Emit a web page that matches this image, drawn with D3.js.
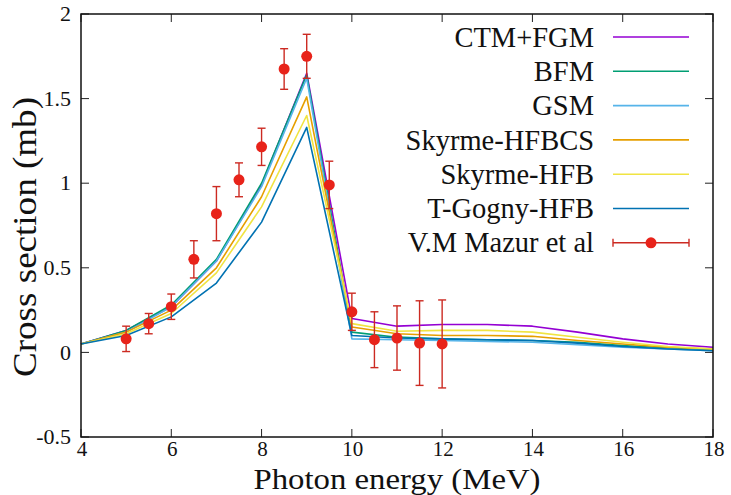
<!DOCTYPE html>
<html><head><meta charset="utf-8">
<script src="https://cdn.jsdelivr.net/npm/d3@7"></script>
<style>body{margin:0;background:#fff}svg text{font-family:"Liberation Serif","DejaVu Serif",serif;fill:#111}</style>
</head><body><svg id="c" width="731" height="495"></svg>
<script>
const energies = [4,5,6,7,8,9,10,11,12,13,14,15,16,17,18];
const ctmFgm    = [0.05,0.13,0.27,0.54,0.99,1.65,0.20,0.155,0.165,0.165,0.155,0.12,0.08,0.05,0.03];
const bfm       = [0.05,0.13,0.28,0.55,1.00,1.64,0.12,0.09,0.08,0.075,0.07,0.06,0.04,0.025,0.015];
const gsm       = [0.05,0.12,0.27,0.54,0.98,1.62,0.08,0.075,0.07,0.065,0.06,0.045,0.03,0.02,0.01];
const skyHfbcs  = [0.05,0.12,0.25,0.50,0.92,1.51,0.15,0.11,0.10,0.10,0.095,0.07,0.05,0.03,0.02];
const skyHfb    = [0.05,0.11,0.23,0.47,0.86,1.40,0.17,0.125,0.13,0.13,0.12,0.09,0.06,0.035,0.02];
const tGogny    = [0.05,0.10,0.21,0.41,0.77,1.33,0.10,0.085,0.08,0.075,0.07,0.055,0.035,0.02,0.01];
const seriesNames = ["CTM+FGM","BFM","GSM","Skyrme-HFBCS","Skyrme-HFB","T-Gogny-HFB"];
const seriesColors = ["#9400d3","#009e73","#56b4e9","#e69f00","#f0e442","#0072b2"];
const seriesValues = [ctmFgm,bfm,gsm,skyHfbcs,skyHfb,tGogny];
const expName = "V.M Mazur et al";
const expE   = [5,5.5,6,6.5,7,7.5,8,8.5,9,9.5,10,10.5,11,11.5,12];
const expSig = [0.08,0.17,0.27,0.55,0.82,1.02,1.215,1.675,1.75,0.99,0.24,0.075,0.085,0.055,0.05];
const expErr = [0.075,0.06,0.075,0.11,0.16,0.10,0.11,0.12,0.13,0.14,0.11,0.165,0.19,0.25,0.26];
const xTicks = [4,6,8,10,12,14,16,18];
const yTicks = [-0.5,0,0.5,1,1.5,2];

const svg = d3.select("#c");
const L=81,R=713,T=14,B=437;
const x = d3.scaleLinear().domain([4,18]).range([L,R]);
const y = d3.scaleLinear().domain([-0.5,2]).range([B,T]);
const tk = 8;

// ticks (inward, mirrored)
const g = svg.append("g");
xTicks.forEach(v=>{
  g.append("line").attr("x1",x(v)).attr("x2",x(v)).attr("y1",B).attr("y2",B-tk).attr("stroke","#222").attr("stroke-width",1);
  g.append("line").attr("x1",x(v)).attr("x2",x(v)).attr("y1",T).attr("y2",T+tk).attr("stroke","#222").attr("stroke-width",1);
  g.append("text").attr("x",x(v)+1).attr("y",B+19).attr("text-anchor","middle").attr("font-size",21).text(v);
});
yTicks.forEach(v=>{
  g.append("line").attr("x1",L).attr("x2",L+tk).attr("y1",y(v)).attr("y2",y(v)).attr("stroke","#222").attr("stroke-width",1);
  g.append("line").attr("x1",R).attr("x2",R-tk).attr("y1",y(v)).attr("y2",y(v)).attr("stroke","#222").attr("stroke-width",1);
  g.append("text").attr("x",L-10).attr("y",y(v)).attr("dy","0.33em").attr("text-anchor","end").attr("font-size",22).text(v);
});

// model lines
const line = d3.line().x((d,i)=>x(energies[i])).y(d=>y(d));
seriesValues.forEach((vals,k)=>{
  svg.append("path").datum(vals).attr("d",line).attr("fill","none")
    .attr("stroke",seriesColors[k]).attr("stroke-width",1.6).attr("stroke-linejoin","round");
});

// experimental points
const errCol="#cc2a22", ptCol="#e8231a";
expE.forEach((e,i)=>{
  const lo=y(expSig[i]-expErr[i]), hi=y(expSig[i]+expErr[i]);
  svg.append("line").attr("x1",x(e)).attr("x2",x(e)).attr("y1",lo).attr("y2",hi).attr("stroke",errCol).attr("stroke-width",1.4);
  [lo,hi].forEach(yy=>svg.append("line").attr("x1",x(e)-4).attr("x2",x(e)+4).attr("y1",yy).attr("y2",yy).attr("stroke",errCol).attr("stroke-width",1.4));
});
svg.selectAll("circle.pt").data(expE).enter().append("circle")
  .attr("cx",d=>x(d)).attr("cy",(d,i)=>y(expSig[i])).attr("r",5.5).attr("fill",ptCol);

// frame
svg.append("rect").attr("x",L).attr("y",T).attr("width",R-L).attr("height",B-T).attr("fill","none").attr("stroke","#111").attr("stroke-width",1.5);

// legend
const lgX=594, lgY0=37, lgDy=34.3, s1=613, s2=689, lgFs=28.5;
seriesNames.forEach((n,k)=>{
  const yy=lgY0+k*lgDy;
  svg.append("text").attr("x",lgX).attr("y",yy).attr("dy","0.34em").attr("text-anchor","end").attr("font-size",lgFs).text(n);
  svg.append("line").attr("x1",s1).attr("x2",s2).attr("y1",yy).attr("y2",yy).attr("stroke",seriesColors[k]).attr("stroke-width",1.6);
});
{
  const yy=lgY0+6*lgDy;
  svg.append("text").attr("x",lgX).attr("y",yy).attr("dy","0.34em").attr("text-anchor","end").attr("font-size",lgFs).text(expName);
  svg.append("line").attr("x1",s1).attr("x2",s2).attr("y1",yy).attr("y2",yy).attr("stroke",errCol).attr("stroke-width",1.4);
  [s1,s2].forEach(xx=>svg.append("line").attr("x1",xx).attr("x2",xx).attr("y1",yy-4).attr("y2",yy+4).attr("stroke",errCol).attr("stroke-width",1.4));
  svg.append("circle").attr("cx",(s1+s2)/2).attr("cy",yy).attr("r",5.5).attr("fill",ptCol);
}

// axis titles
svg.append("text").attr("x",397).attr("y",489).attr("text-anchor","middle").attr("font-size",30)
  .attr("textLength",287).attr("lengthAdjust","spacingAndGlyphs").text("Photon energy (MeV)");
svg.append("text").attr("transform","translate(36,237) rotate(-90)").attr("text-anchor","middle").attr("font-size",33)
  .attr("textLength",280).attr("lengthAdjust","spacingAndGlyphs").text("Cross section (mb)");
</script></body></html>
